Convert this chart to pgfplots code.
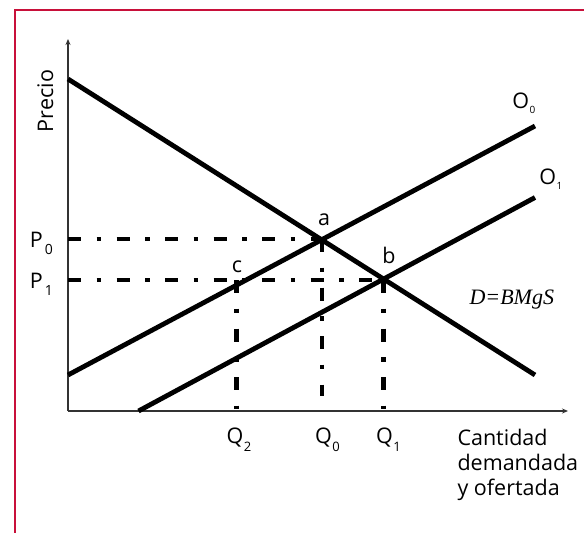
\documentclass[border=0pt]{standalone}
\usepackage{pgfplots}
\pgfplotsset{compat=1.18}
\usepackage{fontspec}
\setmainfont{Open Sans}
\newfontfamily\serifit{Liberation Serif}
\usetikzlibrary{arrows.meta}
\definecolor{framecol}{RGB}{200,16,58}
% subscript: #1 kern, #2 lowering, #3 size, #4 text
\newcommand\sub[4]{\kern#1\raisebox{-#2}{\fontsize{#3}{#3}\selectfont #4}}
\begin{document}
\begin{tikzpicture}[x=1bp,y=1bp]
\path[use as bounding box] (0,0) rectangle (584,-533);
\draw[framecol, line width=2.5bp] (15,-534) -- (15,-10) -- (585,-10);
\begin{axis}[
  at={(68bp,-411bp)}, anchor=origin,
  x=1bp, y=1bp,
  xmin=0, xmax=500, ymin=0, ymax=372,
  enlargelimits=false, clip=false,
  axis lines=left,
  axis line style={black!80, line width=1.1bp, -{Stealth[length=6bp,width=5bp]}},
  xtick=\empty, ytick=\empty,
  every axis plot/.append style={black, no marks},
  dd/.style={line width=4.5bp, black, dash pattern=on 13bp off 15.5bp on 4.5bp off 15.5bp},
  font=\fontsize{21.5bp}{25bp}\selectfont,
  every node/.append style={inner sep=0pt, outer sep=0pt}
]
% demand and supply curves
\addplot[line width=4.8bp] coordinates {(0,332) (467,36)};
\addplot[line width=4.8bp] coordinates {(0,36) (467,285)};
\addplot[line width=4.8bp] coordinates {(70.5,0) (467,213.5)};
% guide lines
\addplot[dd] coordinates {(0,172) (254,172)};
\addplot[dd] coordinates {(0,131) (315.6,131)};
\addplot[dd] coordinates {(254,172) (254,15)};
\addplot[dd] coordinates {(168.5,131) (168.5,2)};
\addplot[dd] coordinates {(315.6,131) (315.6,2)};
% labels
\node[anchor=base] at (axis cs:256,186) {a};
\node[anchor=base] at (axis cs:321,148) {b};
\node[anchor=base] at (axis cs:169,139) {c};
\node[anchor=base west] at (axis cs:398,107) {\fontsize{22bp}{25bp}\serifit\itshape D=BMgS};
\node[anchor=base west] at (axis cs:440.8,303) {O\sub{0.5bp}{5bp}{10bp}{0}};
\node[anchor=base west] at (axis cs:467.8,227) {O\sub{0.5bp}{5bp}{10bp}{1}};
\node[anchor=base west] at (axis cs:-41.7,164) {P\sub{2bp}{7bp}{14bp}{0}};
\node[anchor=base west] at (axis cs:-41.7,123) {P\sub{2bp}{7bp}{14bp}{1}};
\node[anchor=base] at (axis cs:167,-32) {Q\rlap{\sub{0.5bp}{8bp}{13bp}{2}}};
\node[anchor=base] at (axis cs:255.5,-32) {Q\rlap{\sub{0.5bp}{8bp}{13bp}{0}}};
\node[anchor=base] at (axis cs:316.5,-32) {Q\rlap{\sub{0.5bp}{8bp}{13bp}{1}}};
\node[anchor=base, rotate=90] at (axis cs:-15,310) {Precio};
\node[anchor=base west] at (axis cs:386,-34) {Cantidad};
\node[anchor=base west] at (axis cs:386,-59) {demandada};
\node[anchor=base west] at (axis cs:386,-84) {y ofertada};
\end{axis}
\end{tikzpicture}
\end{document}
